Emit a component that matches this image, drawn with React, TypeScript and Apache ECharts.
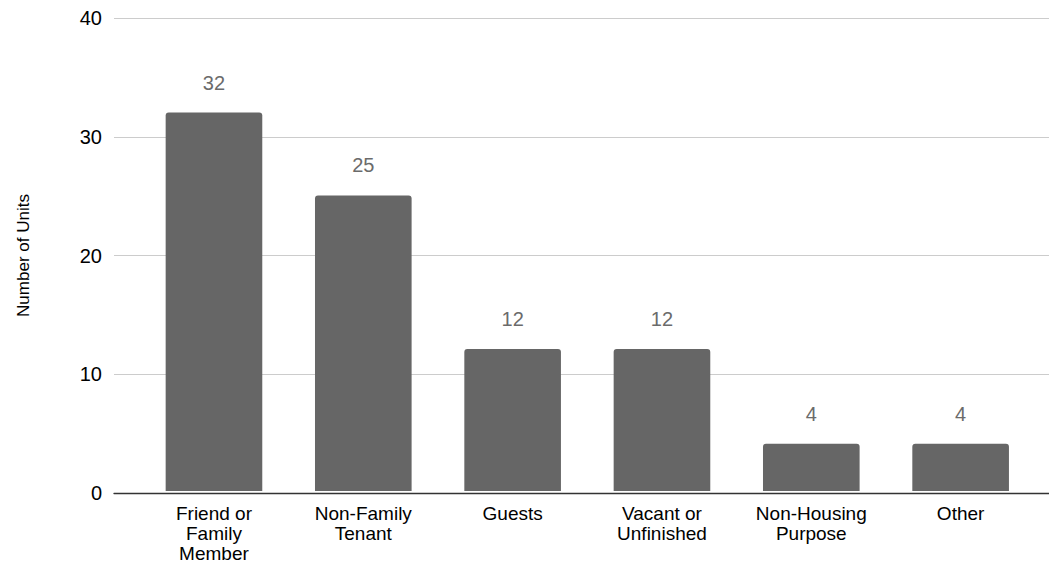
import React, { useEffect, useRef } from "react";
import * as echarts from "echarts";

const categories = [
  "Friend or\nFamily\nMember",
  "Non-Family\nTenant",
  "Guests",
  "Vacant or\nUnfinished",
  "Non-Housing\nPurpose",
  "Other",
];
const unitCounts = [32, 25, 12, 12, 4, 4];
const yTicks = { min: 0, max: 40, interval: 10 };

const FONT = "'Liberation Sans', Arial, sans-serif";

export default function App() {
  const ref = useRef<HTMLDivElement>(null);
  useEffect(() => {
    if (!ref.current) return;
    const chart = echarts.init(ref.current, undefined, { renderer: "svg" });
    chart.setOption({
      animation: false,
      backgroundColor: "#ffffff",
      textStyle: { fontFamily: FONT },
      grid: [
        { left: 114, right: 0, top: 18, bottom: 70 },
        { left: 139.3, right: 13.7, top: 18, bottom: 70 },
      ],
      xAxis: [
        {
          gridIndex: 0,
          type: "value",
          min: 0,
          max: 1,
          axisLine: { show: true, lineStyle: { color: "#333333", width: 1.3 } },
          axisTick: { show: false },
          axisLabel: { show: false },
          splitLine: { show: false },
          z: 5,
        },
        {
          gridIndex: 1,
          type: "category",
          data: categories,
          axisLine: { show: false },
          axisTick: { show: false },
          axisLabel: {
            color: "#000000",
            fontSize: 19,
            lineHeight: 20,
            margin: 12,
            fontFamily: FONT,
            interval: 0,
          },
        },
      ],
      yAxis: [
        {
          gridIndex: 0,
          type: "value",
          min: yTicks.min,
          max: yTicks.max,
          interval: yTicks.interval,
          axisLine: { show: false },
          axisTick: { show: false },
          axisLabel: { color: "#000000", fontSize: 20, margin: 12, fontFamily: FONT },
          splitLine: { lineStyle: { color: "#cccccc", width: 1 } },
          name: "Number of Units",
          nameLocation: "middle",
          nameGap: 82,
          nameTextStyle: { color: "#000000", fontSize: 17, fontFamily: FONT },
        },
        {
          gridIndex: 1,
          type: "value",
          min: yTicks.min,
          max: yTicks.max,
          interval: yTicks.interval,
          show: false,
          splitLine: { show: false },
        },
      ],
      series: [
        {
          type: "bar",
          xAxisIndex: 1,
          yAxisIndex: 1,
          data: unitCounts,
          barWidth: "64.7%",
          itemStyle: { color: "#666666", borderRadius: [3, 3, 0, 0] },
          label: {
            show: true,
            position: "top",
            distance: 20,
            color: "#6b6b6b",
            fontSize: 20,
            fontFamily: FONT,
          },
          z: 3,
        },
      ],
    });
    return () => chart.dispose();
  }, []);
  return (
    <div
      ref={ref}
      style={{ position: "fixed", left: 0, top: 0, width: 1049, height: 563 }}
    />
  );
}
